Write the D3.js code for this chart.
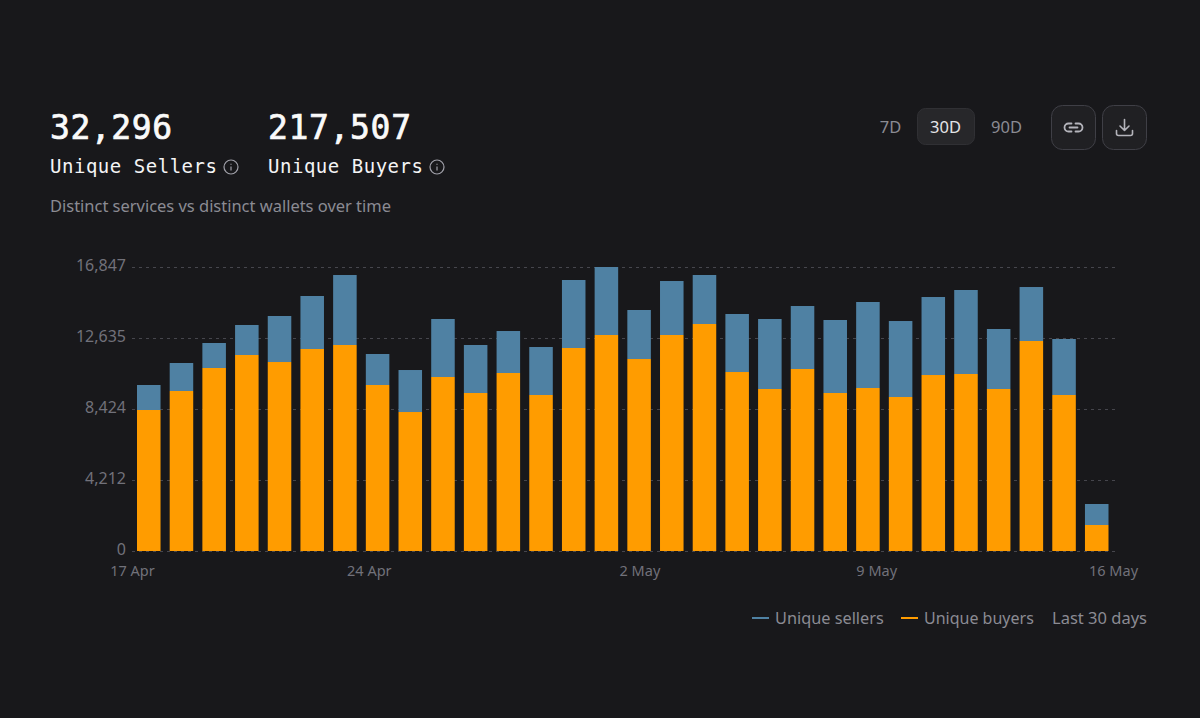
<!DOCTYPE html>
<html>
<head>
<meta charset="utf-8">
<script src="https://cdn.jsdelivr.net/npm/d3@7"></script>
<style>
  html, body { margin: 0; background: #18181b; overflow: hidden; }
  svg { display: block; }
  text { font-family: "Noto Sans", sans-serif; }
  .mono { font-family: "DejaVu Sans Mono", monospace; }
  .tick text { fill: #71717a; }
</style>
</head>
<body>
<svg id="chart" width="1200" height="718"></svg>
<script>
var days = ["17 Apr","18 Apr","19 Apr","20 Apr","21 Apr","22 Apr","23 Apr","24 Apr","25 Apr","26 Apr",
  "27 Apr","28 Apr","29 Apr","30 Apr","1 May","2 May","3 May","4 May","5 May","6 May",
  "7 May","8 May","9 May","10 May","11 May","12 May","13 May","14 May","15 May","16 May"];
var buyers = [8364,9491,10856,11627,11211,11983,12220,9847,8245,10322,
  9373,10559,9254,12042,12813,11389,12813,13466,10618,9610,
  10796,9373,9669,9135,10440,10500,9610,12457,9254,1542];
var sellers = [1483,1661,1483,1780,2729,3144,4152,1839,2491,3441,
  2847,2491,2847,4034,4034,2907,3203,2907,3441,4152,
  3737,4330,5102,4508,4627,4983,3559,3203,3322,1246];
var yTicks = [0,4212,8424,12635,16847];
var xTicks = ["17 Apr","24 Apr","2 May","9 May","16 May"];
var ranges = ["7D","30D","90D"];

var svg = d3.select("#chart");
var x = d3.scaleBand().domain(days).range([137,1108.5]).paddingInner(0.28).paddingOuter(0);
var xLabel = d3.scalePoint().domain(days).range([132,1113]);
var y = d3.scaleLinear().domain([0,16847]).range([551,267]);

// grid + y axis
var yAxis = svg.append("g").attr("transform","translate(132,0)")
  .call(d3.axisLeft(y).tickValues(yTicks).tickFormat(d3.format(",")).tickSize(-983).tickPadding(6));
yAxis.select(".domain").remove();
yAxis.selectAll("line").attr("stroke","#46464d").attr("stroke-dasharray","3 4");
yAxis.selectAll("text").attr("font-size",16).attr("dy","0.2em");

// x axis
var xAxis = svg.append("g").attr("transform","translate(0,551)")
  .call(d3.axisBottom(xLabel).tickValues(xTicks).tickSize(0).tickPadding(15));
xAxis.select(".domain").remove();
xAxis.selectAll("text").attr("font-size",14.5);

// stacked bars
svg.append("g").selectAll("rect").data(days).join("rect")
  .attr("x",function(d){ return x(d); })
  .attr("width",x.bandwidth())
  .attr("y",function(d,i){ return y(buyers[i]); })
  .attr("height",function(d,i){ return y(0)-y(buyers[i]); })
  .attr("fill","#ff9c00");
svg.append("g").selectAll("rect").data(days).join("rect")
  .attr("x",function(d){ return x(d); })
  .attr("width",x.bandwidth())
  .attr("y",function(d,i){ return y(buyers[i]+sellers[i]); })
  .attr("height",function(d,i){ return y(buyers[i])-y(buyers[i]+sellers[i]); })
  .attr("fill","#4f81a3");

// header
function txt(s,px,py,size,fill,cls,anchor){
  return svg.append("text").text(s).attr("x",px).attr("y",py)
    .attr("font-size",size).attr("fill",fill).attr("class",cls||null)
    .attr("text-anchor",anchor||"start");
}
function info(cx,cy){
  var g = svg.append("g").attr("transform","translate("+cx+","+cy+")")
    .attr("fill","none").attr("stroke","#a1a1aa").attr("stroke-width",1.2);
  g.append("circle").attr("r",7);
  g.append("line").attr("y1",-0.5).attr("y2",3.5);
  g.append("line").attr("y1",-3.2).attr("y2",-2.2);
}
txt("32,296",50,139,33,"#fafafa","mono").attr("stroke","#fafafa").attr("stroke-width",0.7).attr("textLength",122);
txt("217,507",268,139,33,"#fafafa","mono").attr("stroke","#fafafa").attr("stroke-width",0.7).attr("textLength",143);
txt("Unique Sellers",50,173,19,"#f4f4f5","mono").attr("textLength",167);
txt("Unique Buyers",268,173,19,"#f4f4f5","mono").attr("textLength",155);
info(231,167); info(437,167);
txt("Distinct services vs distinct wallets over time",50,212,16.5,"#8b8b93").attr("textLength",341);

// range buttons
svg.append("rect").attr("x",917.5).attr("y",108.5).attr("width",57).attr("height",36).attr("rx",8)
  .attr("fill","#27272a").attr("stroke","#303034");
ranges.forEach(function(r,i){
  txt(r,[890.5,945.5,1006.5][i],133,16.5,r=="30D"?"#e4e4e7":"#8b8b93",null,"middle");
});

// icon buttons
[1051.5,1102.5].forEach(function(bx){
  svg.append("rect").attr("x",bx).attr("y",105.5).attr("width",44).attr("height",44).attr("rx",11)
    .attr("fill","#202023").attr("stroke","#3f3f46");
});
svg.append("path").attr("transform","translate(1061.5,115.5)")
  .attr("d","M10 8H7a4 4 0 0 0 0 8h3M14 8h3a4 4 0 0 1 0 8h-3M8 12h8")
  .attr("fill","none").attr("stroke","#b4b4bb").attr("stroke-width",1.8).attr("stroke-linecap","round");
svg.append("path").attr("transform","translate(1112.5,115.5)")
  .attr("d","M12 4v11M7.5 10.5 12 15l4.500-4.500M4 15v3a2 2 0 0 0 2 2h12a2 2 0 0 0 2-2v-3")
  .attr("fill","none").attr("stroke","#b4b4bb").attr("stroke-width",1.6).attr("stroke-linecap","round").attr("stroke-linejoin","round");

// legend
svg.append("line").attr("x1",752).attr("x2",769).attr("y1",618).attr("y2",618).attr("stroke","#4f81a3").attr("stroke-width",2);
txt("Unique sellers",775,624,16.3,"#8b8b93");
svg.append("line").attr("x1",901).attr("x2",918).attr("y1",618).attr("y2",618).attr("stroke","#ff9c00").attr("stroke-width",2);
txt("Unique buyers",924,624,16,"#8b8b93");
txt("Last 30 days",1147,624,16.5,"#8b8b93",null,"end");
</script>
</body>
</html>
